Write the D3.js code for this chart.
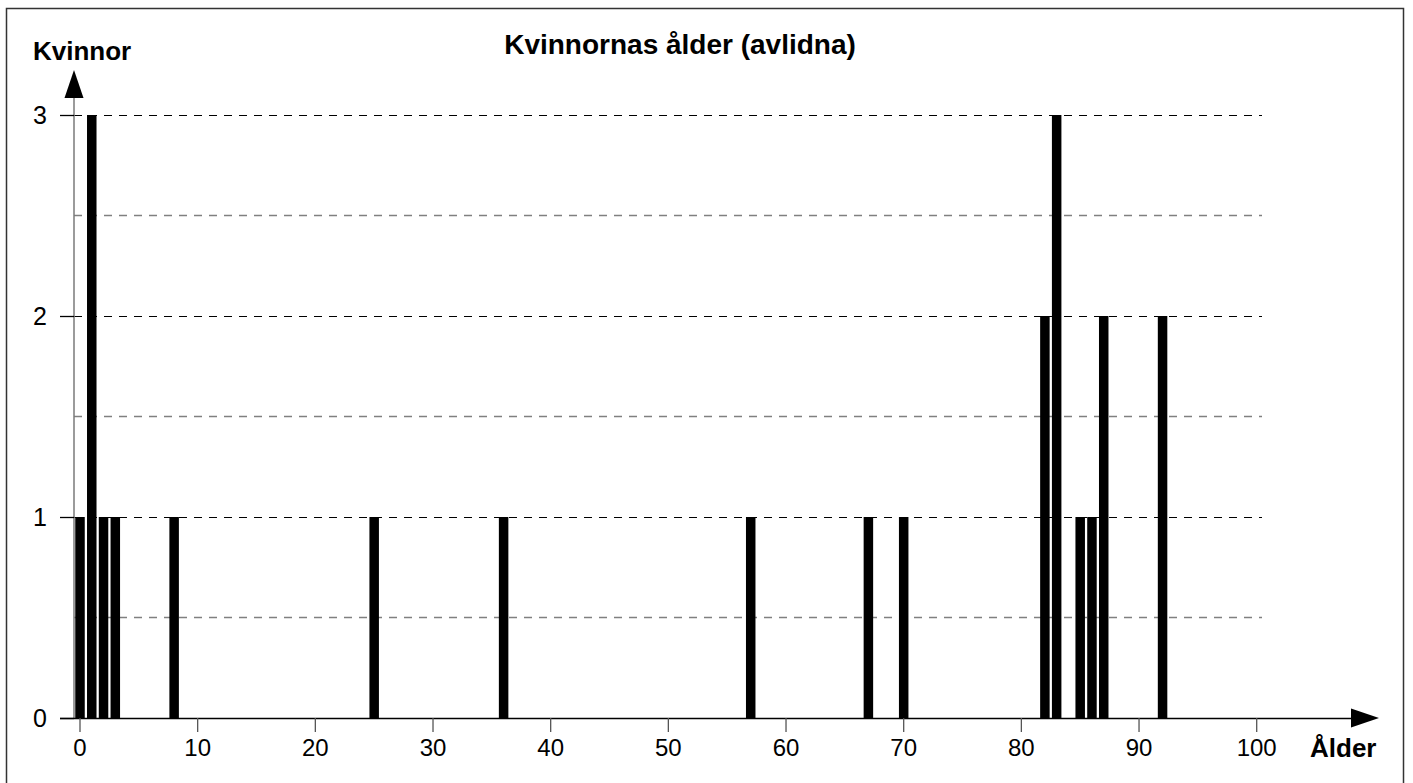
<!DOCTYPE html>
<html>
<head>
<meta charset="utf-8">
<script src="https://cdn.jsdelivr.net/npm/d3@7"></script>
<style>
	body { margin: 0; background: #fff; }
	text { font-family: "Liberation Sans", Arial, sans-serif; }
</style>
</head>
<body>
<div id="canvas"></div>
<script>
// ages with deaths and the number of women for each
var ages = [0, 1, 2, 3, 8, 25, 36, 57, 67, 70, 82, 83, 85, 86, 87, 92];
var counts = [1, 3, 1, 1, 1, 1, 1, 1, 1, 1, 2, 3, 1, 1, 2, 2];
var xTicks = [0, 10, 20, 30, 40, 50, 60, 70, 80, 90, 100];
var yTicks = [0, 1, 2, 3];
var yMinor = [0.5, 1.5, 2.5];

var w = 1413, h = 783;

var svg = d3.select("#canvas")
	.append("svg")
	.attr("width", w)
	.attr("height", h);

svg.append("rect")
	.attr("x", 6.5)
	.attr("y", 8.5)
	.attr("width", 1397)
	.attr("height", 790)
	.attr("fill", "none")
	.attr("stroke", "#333")
	.attr("stroke-width", 1.5);

var xScale = d3.scaleLinear()
	.domain([0, 100])
	.range([80, 1256.7]);

var yScale = d3.scaleLinear()
	.domain([0, 3])
	.range([718, 115]);

var axisX = 74;
var gridEnd = 1262;

// gridlines
svg.selectAll(".minor")
	.data(yMinor)
	.enter()
	.append("line")
	.attr("x1", axisX)
	.attr("x2", gridEnd)
	.attr("y1", function(d){ return yScale(d); })
	.attr("y2", function(d){ return yScale(d); })
	.attr("stroke", "#808080")
	.attr("stroke-width", 1.5)
	.attr("stroke-dasharray", "8,7");

svg.selectAll(".major")
	.data(yTicks.filter(function(d){ return d > 0; }))
	.enter()
	.append("line")
	.attr("x1", axisX)
	.attr("x2", gridEnd)
	.attr("y1", function(d){ return yScale(d) + 0.5; })
	.attr("y2", function(d){ return yScale(d) + 0.5; })
	.attr("stroke", "#000")
	.attr("stroke-width", 1.2)
	.attr("stroke-dasharray", "8,7");

// bars
var barW = 9.5;
svg.selectAll(".bar")
	.data(ages)
	.enter()
	.append("rect")
	.attr("x", function(d){ return xScale(d) - barW / 2; })
	.attr("y", function(d, i){ return yScale(counts[i]); })
	.attr("width", barW)
	.attr("height", function(d, i){ return yScale(0) - yScale(counts[i]); })
	.attr("fill", "#000");

// y axis
svg.append("line")
	.attr("x1", axisX).attr("x2", axisX)
	.attr("y1", yScale(0)).attr("y2", 96)
	.attr("stroke", "#7a7a7a")
	.attr("stroke-width", 1.5);

svg.append("path")
	.attr("d", "M" + axisX + ",70 L" + (axisX - 9.5) + ",98 L" + (axisX + 9.5) + ",98 Z")
	.attr("fill", "#000");

svg.selectAll(".ytick")
	.data(yTicks)
	.enter()
	.append("line")
	.attr("x1", 60).attr("x2", axisX)
	.attr("y1", function(d){ return yScale(d) + 0.5; })
	.attr("y2", function(d){ return yScale(d) + 0.5; })
	.attr("stroke", "#000")
	.attr("stroke-width", 1.3);

svg.selectAll(".ylabel")
	.data(yTicks)
	.enter()
	.append("text")
	.attr("x", 47)
	.attr("y", function(d){ return yScale(d) + 9; })
	.attr("text-anchor", "end")
	.attr("font-size", 25)
	.text(function(d){ return d; });

// x axis
svg.append("line")
	.attr("x1", 60).attr("x2", 1354)
	.attr("y1", yScale(0) + 0.5).attr("y2", yScale(0) + 0.5)
	.attr("stroke", "#000")
	.attr("stroke-width", 1.3);

svg.append("path")
	.attr("d", "M1379," + yScale(0) + " L1351," + (yScale(0) - 9.5) + " L1351," + (yScale(0) + 9.5) + " Z")
	.attr("fill", "#000");

svg.selectAll(".xtick")
	.data(xTicks)
	.enter()
	.append("line")
	.attr("x1", function(d){ return xScale(d); })
	.attr("x2", function(d){ return xScale(d); })
	.attr("y1", yScale(0))
	.attr("y2", yScale(0) + 14)
	.attr("stroke", "#555")
	.attr("stroke-width", 1.3);

svg.selectAll(".xlabel")
	.data(xTicks)
	.enter()
	.append("text")
	.attr("x", function(d){ return xScale(d); })
	.attr("y", 756)
	.attr("text-anchor", "middle")
	.attr("font-size", 24)
	.text(function(d){ return d; });

// titles
svg.append("text")
	.attr("x", 680)
	.attr("y", 54)
	.attr("text-anchor", "middle")
	.attr("font-size", 28)
	.attr("font-weight", "bold")
	.text("Kvinnornas ålder (avlidna)");

svg.append("text")
	.attr("x", 33)
	.attr("y", 60)
	.attr("font-size", 26)
	.attr("font-weight", "bold")
	.text("Kvinnor");

svg.append("text")
	.attr("x", 1310)
	.attr("y", 757)
	.attr("font-size", 26)
	.attr("font-weight", "bold")
	.text("Ålder");
</script>
</body>
</html>
